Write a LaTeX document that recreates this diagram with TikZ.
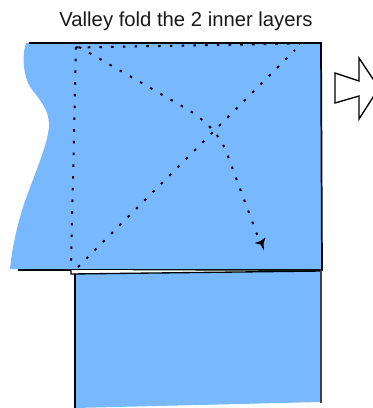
\documentclass[tikz,border=0pt]{standalone}
\usepackage{fontspec}
\setmainfont{Liberation Sans}
\definecolor{paper}{RGB}{119,184,255}
\begin{document}
\begin{tikzpicture}[x=0.75pt,y=-0.75pt,font=\fontsize{15.2}{18}\selectfont,
  edge/.style={black,line width=1.3pt},
  thinedge/.style={black!75,line width=0.9pt},
  crease/.style={black,line width=1.5pt,dash pattern=on 1.9pt off 6.9pt}]
\useasboundingbox (0,0) rectangle (373,408);
\clip (0,0) rectangle (373,408);
\node[text=black!90] (title) at (186,21) {Valley fold the 2 inner layers};
\fill[paper] (26,43) .. controls (23,52) and (22,68) .. (28,83) .. controls (33,94) and (49,105) .. (49,125) .. controls (49,142) and (33,178) .. (24,204) .. controls (17,226) and (12,248) .. (10,269) -- (322,269) -- (321,43) -- cycle;
\fill[paper] (75,274) -- (321,271) -- (321,402) -- (75,408) -- cycle;
\draw[edge] (29,43) -- (321,43) -- (322,270) -- (18,270);
\draw[black,line width=1pt,fill=white] (71,270) -- (71,274) -- (322,271);
\draw[edge] (75,274) -- (75,408);
\draw[thinedge] (321,270) -- (321,403);
% creases
\draw[crease] (76,47) -- (71,266);
\draw[crease] (76,47.5) -- (300,43.5);
\draw[crease] (78,267) -- (295,50);
\draw[crease] (79,47) -- (187,109) .. controls (205,120) and (219,134) .. (226,151) -- (258,237);
\fill[black] (264,250.5) -- (260.5,244.5) -- (254.5,243) -- (260.5,241) -- (265.5,237.5) -- (263.5,243.5) -- cycle;
% next step arrow
\draw[black,line width=1pt] (335,73) -- (359,81) -- (359,58) -- (379,88) -- (359,119) -- (359,96) -- (335,103) -- cycle;
\end{tikzpicture}
\end{document}
